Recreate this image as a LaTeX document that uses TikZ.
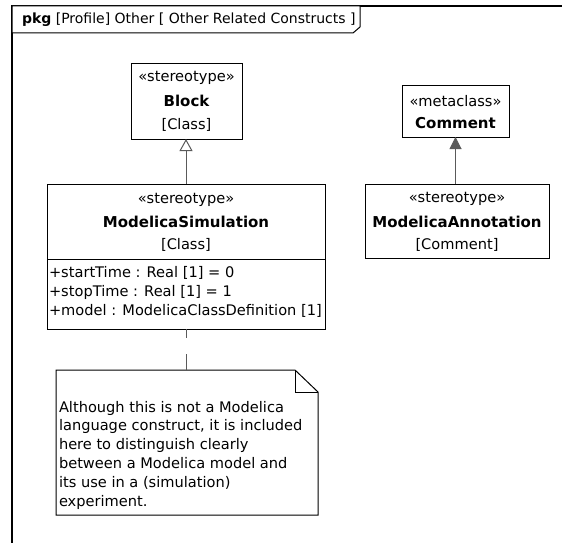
\documentclass[tikz,border=0pt]{standalone}
\usepackage{fontspec}
\setmainfont{DejaVu Sans}
\usetikzlibrary{arrows.meta}
\definecolor{linegray}{HTML}{5A5A5A}
\begin{document}
\begin{tikzpicture}[x=1pt,y=-1pt,
  box/.style={draw=black,line width=1pt,fill=white,inner sep=0pt,outer sep=0pt},
  txt/.style={font=\fontsize{14.6}{18.8}\selectfont,inner sep=0pt,outer sep=0pt},
  btxt/.style={font=\fontsize{15}{18.8}\selectfont\bfseries,inner sep=0pt,outer sep=0pt},
  hdrtxt/.style={font=\fontsize{14}{17}\selectfont,inner sep=0pt,outer sep=0pt},
  gen/.style={draw=linegray,line width=1pt,-{Triangle[open,length=12pt,width=13pt,fill=white]}},
  ext/.style={draw=linegray,line width=1pt,-{Triangle[length=12pt,width=12pt,fill=linegray]}},
  notelink/.style={draw=linegray,line width=1pt,dash pattern=on 9pt off 16pt on 17pt off 10pt}]
\useasboundingbox (0,0) rectangle (562,543);
% frame
\draw[line width=1.2pt,black] (12,543) -- (12,6) -- (562,6);
\draw[line width=1pt,black,fill=white] (12,6) -- (360,6) -- (360,27) -- (353,33) -- (12,33) -- cycle;
\node[hdrtxt,anchor=west] (hdr) at (22,20) {\textbf{pkg} [Profile] Other [ Other Related Constructs ]};
% Block
\node[box,minimum width=111pt,minimum height=75pt] (block) at (186.5,101.5) {};
\node[txt] (blockst) at (186.5,78) {«stereotype»};
\node[btxt] (blockn) at (186.5,101) {Block};
\node[txt] (blockc) at (186.5,125) {[Class]};
% Comment
\node[box,minimum width=107pt,minimum height=52pt] (comment) at (455.5,111) {};
\node[txt] (commst) at (455.5,101) {«metaclass»};
\node[btxt] (commn) at (455.5,123) {Comment};
% ModelicaSimulation
\node[box,minimum width=278pt,minimum height=145pt] (msim) at (186,256.5) {};
\draw[black,line width=1pt] (msim.west |- 0,259) -- (msim.east |- 0,259);
\node[txt] (msimst) at (186,200) {«stereotype»};
\node[btxt] (msimn) at (186,222) {ModelicaSimulation};
\node[txt] (msimc) at (186,245) {[Class]};
\node[txt,anchor=west] (attr1) at (49,273) {+startTime : Real [1] = 0};
\node[txt,anchor=west] (attr2) at (49,292) {+stopTime : Real [1] = 1};
\node[txt,anchor=west] (attr3) at (49,311) {+model : ModelicaClassDefinition [1]};
% ModelicaAnnotation
\node[box,minimum width=184pt,minimum height=74pt] (mann) at (457,221) {};
\node[txt] (mannst) at (457,199) {«stereotype»};
\node[btxt] (mannn) at (457,222) {ModelicaAnnotation};
\node[txt] (mannc) at (457,245) {[Comment]};
% note
\node[minimum width=262pt,minimum height=145pt,inner sep=0pt,outer sep=0pt] (note) at (187,442.5) {};
\draw[black,line width=1pt,fill=white] (note.north west) -- ([xshift=-23pt]note.north east) -- ([yshift=-22pt]note.north east) -- (note.south east) -- (note.south west) -- cycle;
\draw[black,line width=1pt] ([xshift=-23pt]note.north east) |- ([yshift=-22pt]note.north east);
\node[txt,anchor=west,align=left] (notetxt) at (59,455) {Although this is not a Modelica\\language construct, it is included\\here to distinguish clearly\\between a Modelica model and\\its use in a (simulation)\\experiment.};
% connectors
\draw[gen] (msim.north) -- (msim.north |- block.south);
\draw[ext] (comment.south |- mann.north) -- (comment.south);
\draw[notelink] (msim.south) -- (msim.south |- note.north);
\end{tikzpicture}
\end{document}
